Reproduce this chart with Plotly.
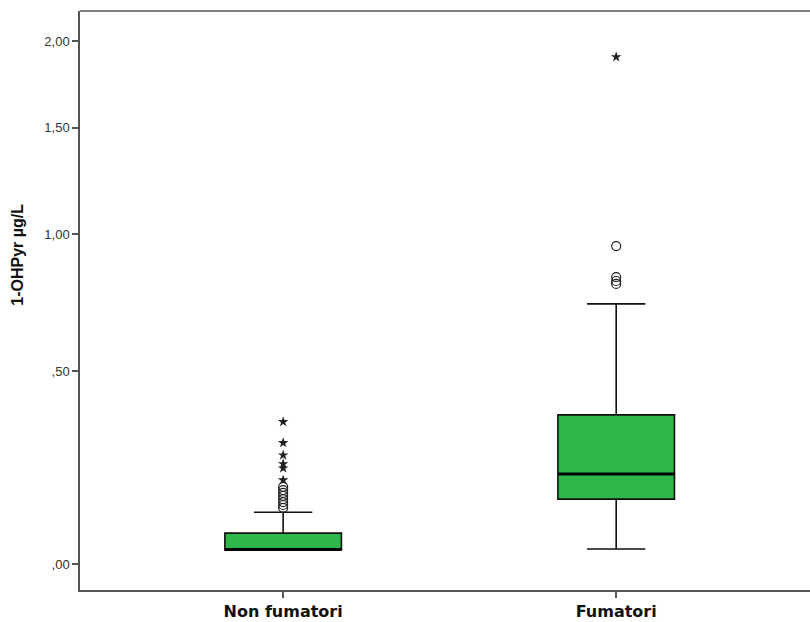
import numpy as np
import plotly.graph_objects as go

# ---- data (values in µg/L) ----
categories = ["Non fumatori", "Fumatori"]
q1 = [0.030, 0.146]
median = [0.031, 0.208]
q3 = [0.067, 0.368]
lower_whisker = [0.030, 0.032]
upper_whisker = [0.115, 0.727]

# outliers (circles) and extremes (stars)
nonfum_circles = [0.176, 0.168, 0.161, 0.154, 0.146, 0.139, 0.132, 0.125]
nonfum_stars = [0.348, 0.290, 0.257, 0.234, 0.223, 0.193]
fum_circles = [0.950, 0.827, 0.812, 0.801]
fum_stars = [1.901]

y_tick_values = [0.0, 0.5, 1.0, 1.5, 2.0]
y_tick_labels = [",00", ",50", "1,00", "1,50", "2,00"]
y_title = "1-OHPyr µg/L"

# ---- styling ----
GREEN = "#2EB84B"
BOX_W = 0.35
FONT = "Liberation Sans, Arial, sans-serif"


def t(v):
    return np.log1p(np.asarray(v, dtype=float))


positions = list(range(len(categories)))
fig = go.Figure()

for i, pos in enumerate(positions):
    fig.add_trace(go.Box(
        x=[pos], q1=t([q1[i]]), median=t([median[i]]), q3=t([q3[i]]),
        lowerfence=t([lower_whisker[i]]), upperfence=t([upper_whisker[i]]),
        width=BOX_W, whiskerwidth=0.5, fillcolor=GREEN,
        line=dict(color="#111111", width=1.6), boxpoints=False,
        showlegend=False, hoverinfo="skip"))
    # thick median line
    fig.add_trace(go.Scatter(
        x=[pos - BOX_W / 2, pos + BOX_W / 2], y=t([median[i], median[i]]),
        mode="lines", line=dict(color="black", width=3),
        showlegend=False, hoverinfo="skip"))

circle_sets = [nonfum_circles, fum_circles]
star_sets = [nonfum_stars, fum_stars]
for pos, vals in zip(positions, circle_sets):
    fig.add_trace(go.Scatter(
        x=[pos] * len(vals), y=t(vals), mode="markers",
        marker=dict(symbol="circle-open", size=9, color="#222222",
                    line=dict(width=1.2, color="#222222")),
        showlegend=False, hoverinfo="skip"))
for pos, vals in zip(positions, star_sets):
    fig.add_trace(go.Scatter(
        x=[pos] * len(vals), y=t(vals), mode="markers",
        marker=dict(symbol="star", size=8, color="#222222"),
        showlegend=False, hoverinfo="skip"))

fig.update_layout(
    width=830, height=622,
    margin=dict(l=80, r=0, t=11, b=32),
    paper_bgcolor="white", plot_bgcolor="white",
    font=dict(family=FONT, color="#222222"),
    annotations=[dict(
        text="<b>%s</b>" % y_title, textangle=-90, showarrow=False,
        xref="paper", x=0, xshift=-62, xanchor="center",
        yref="paper", y=0.579, yanchor="middle",
        font=dict(size=16, color="#111111"))],
    shapes=[dict(type="line", xref="paper", yref="paper", x0=0, x1=1, y0=1, y1=1,
                 line=dict(color="#555555", width=1.5))],
)
fig.update_xaxes(
    range=[-0.61, 1.642], tickmode="array", tickvals=positions,
    ticktext=["<b>%s</b>" % c for c in categories],
    tickfont=dict(size=16, color="#111111", family="DejaVu Sans, Verdana, sans-serif"),
    showline=True, linecolor="#555555", linewidth=1.5, mirror=False,
    ticks="outside", ticklen=6, tickcolor="#555555", tickwidth=1.5,
    showgrid=False, zeroline=False,
)
fig.update_yaxes(
    range=[-0.0546, 1.1616], tickmode="array", tickvals=t(y_tick_values),
    ticktext=y_tick_labels, tickfont=dict(size=13, color="#333333"),
    showline=True, linecolor="#555555", linewidth=1.5, mirror=False,
    ticks="outside", ticklen=6, tickcolor="#555555", tickwidth=1.5,
    showgrid=False, zeroline=False,
)

fig.write_html("out.html", config={"displayModeBar": False},
               post_script="document.body.style.margin='0';document.body.style.overflow='hidden';")
